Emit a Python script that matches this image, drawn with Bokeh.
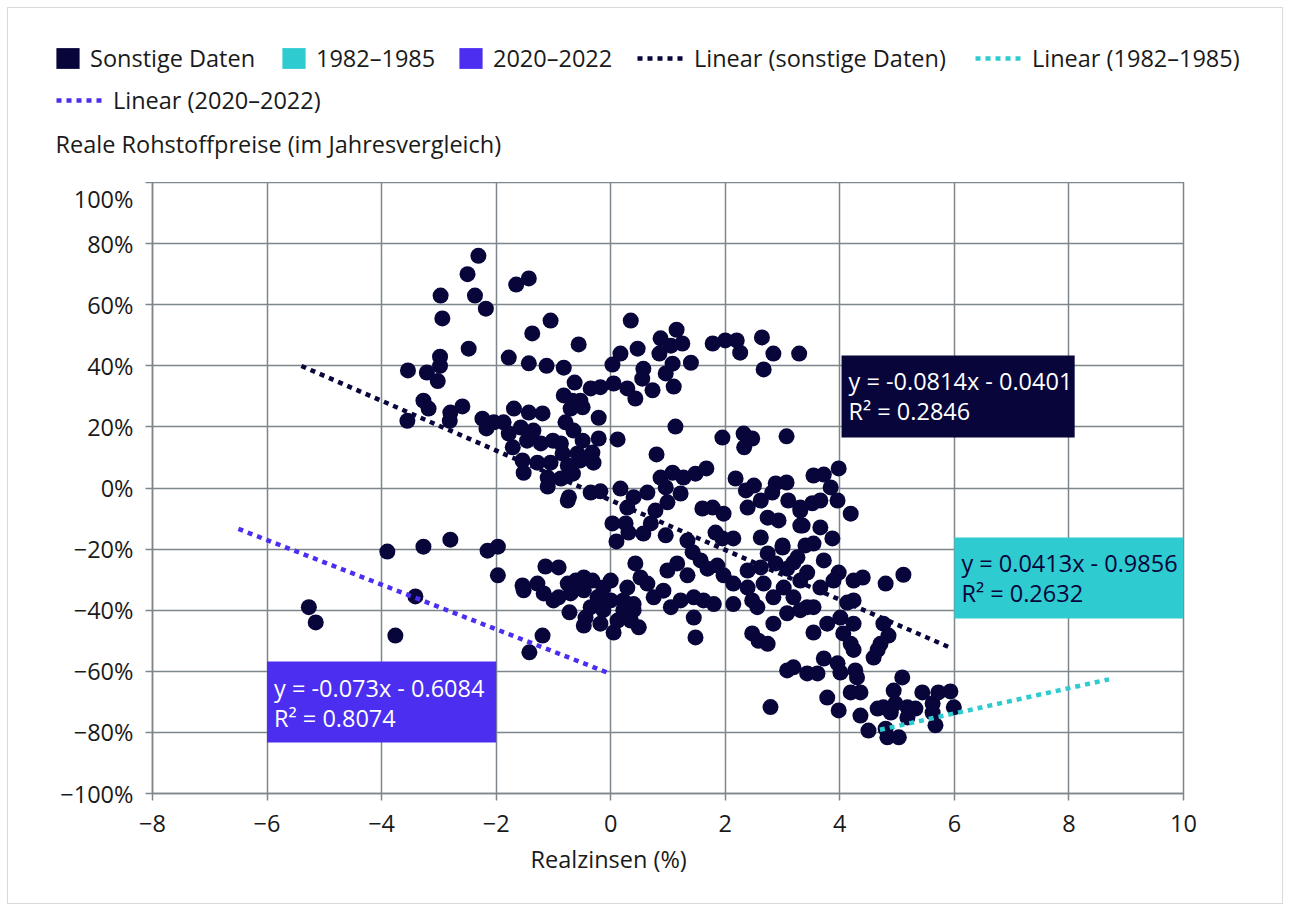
from bokeh.plotting import figure
from bokeh.layouts import column
from bokeh.models import (FixedTicker, Legend, LegendItem, Label, BoxAnnotation, Range1d, Title)
from bokeh.embed import file_html
from bokeh.resources import INLINE
from bokeh.core.properties import value

NAVY = "#07053A"
CYAN = "#2ECBD0"
PURPLE = "#4B2EF0"
GRID = "#7E868C"
TEXT = "#1A1A1A"
FONT = "Open Sans"
FS = "23.5px"

# ---------------- data ----------------
x_ticks = [-8, -6, -4, -2, 0, 2, 4, 6, 8, 10]
x_tick_labels = ["−8", "−6", "−4", "−2", "0", "2", "4", "6", "8", "10"]
y_ticks = [-100, -80, -60, -40, -20, 0, 20, 40, 60, 80, 100]
y_tick_labels = ["−100%", "−80%", "−60%", "−40%", "−20%", "0%", "20%", "40%", "60%", "80%", "100%"]

x_title = "Realzinsen (%)"
y_title = "Reale Rohstoffpreise (im Jahresvergleich)"

series_names = ["Sonstige Daten", "1982–1985", "2020–2022"]
series_colors = [NAVY, CYAN, PURPLE]

# Sonstige Daten: real rate (%) vs. real commodity price change (% y/y)
real_rate = [
    -2.31, -2.5, -2.37, -2.18, -1.65, -1.43, -2.97, -2.94, -1.05, -1.37, -0.56, 0.35, -2.48, -2.98, -2.98,
    -1.78, -1.43, -1.12, -0.82, 0.17, 0.03, 0.47,
    -3.54, -3.21, -3.02, -3.27, -3.18, -3.55, -2.8, -2.81, -2.59,
    -0.63, -0.82, -0.67, -0.53, -0.35, -0.18, 0.05, 0.29, 0.43, -0.21, -0.49, -0.7, -0.79, -0.65, -0.49,
    -0.21, 0.12, -0.32, -0.3, -0.58, -0.87,
    -1.69, -1.43, -1.19, -2.24, -2.04, -1.87, -2.17, -1.78, -1.57, -1.35, -1.46, -1.71, -1.22, -1.01, -0.84,
    -1.54, -1.28, -1.05, -0.75, -1.1, -1.52, -0.87, -0.66, -0.54, -1.1, -0.73, -0.35, -0.18, 0.17, 0.4,
    1.15, 0.87, 1.25, 1.05, 0.85, 1.78, 2.0, 2.2, 2.26, 2.64, 2.84, 3.29, 1.4, 1.08, 0.57, 0.96, 0.55, 2.67,
    0.73, 1.1, 1.13, 1.95, 2.32, 2.47, 2.33, 3.07, 0.8,
    0.87, 1.08, 1.27, 1.48, 1.67, 0.96, 1.22, 0.64, 0.78, 0.99, 2.18, 2.5, 2.36, 2.88, 3.07, 2.62, 2.39,
    2.82, 3.1, 3.31, 3.54, 3.72, 3.98, 3.84, 3.66, 3.96, 3.52, 1.6, 1.78, 1.97, 2.74, 4.19,
    0.29, 2.93, 3.35, 3.66, 3.87, 0.31, 0.57, 0.7, 0.96, 1.34, 1.43, 1.83, 1.95, 2.14, 2.62, 3.0, 3.4,
    2.74, 2.39, 2.62, 2.88, 3.08, 3.19, 3.43, 3.72, 3.98, 4.24, 0.43, 0.52, 0.29, 0.64, 0.99, 1.16, 1.34,
    1.57, 1.69, 1.86, 1.97, 2.14, 2.39, 2.67, 2.84, 3.02, 3.19, 3.31, 3.43, 3.66, 3.89, 0.22, 0.4, 0.75,
    0.92, 1.05, 1.22, 1.45, 1.62, 1.8, 1.45, 0.49, 1.48, 2.14, 2.47, 2.56, 2.84, 3.08, 3.31, 3.54, 3.78,
    3.54, 2.47, 2.58, 2.74, 4.01, 4.24, 4.06, 4.19,
    -3.9, -3.27, -2.8, -2.15, -1.97, -1.97, -3.41, -3.76, -1.19, -1.42, -1.14, -0.91, -1.54, -1.52, -1.28,
    -1.17, -0.91, -0.75, -0.61, -0.47, -0.32, -0.13, 0.0, -0.7, -0.47, -0.23, 0.0, -0.72, -0.44, -0.47,
    -0.18, 0.05, 0.12, 0.35, -0.35, -0.13, 0.22, 0.4, -1.0, 0.03, 0.26, -0.75, 0.1, -5.27, -5.15,
    3.31, 3.31, 3.0, 3.54, 3.26, 4.4, 4.8, 5.11, 4.13, 4.24, 4.24, 4.76, 4.85, 4.71, 4.66, 4.59,
    3.08, 3.19, 3.43, 3.61, 3.72, 3.96, 4.01, 4.27, 4.3,
    3.78, 3.98, 4.19, 4.36, 4.36, 4.5, 4.66, 4.76, 4.89, 4.8, 4.83, 5.03, 4.97, 4.94, 5.09, 5.18, 5.32,
    5.44, 5.62, 5.62, 5.72, 5.93, 5.99, 5.67, 5.18, 2.79,
]
price_change = [
    76, 70, 63, 58.7, 66.6, 68.6, 63, 55.5, 54.8, 50.6, 47, 54.8, 45.6, 43, 40,
    42.7, 40.8, 40, 39.4, 44, 40.4, 45.6,
    38.5, 37.8, 35, 28.6, 26, 22, 24.7, 22, 26.7,
    34.5, 30.3, 28.6, 28.6, 32.6, 33, 34.2, 32.6, 29.3, 23, 26.4, 26, 21.5, 18.8, 15.5,
    16.2, 15.9, 11.6, 8.3, 11.3, 14.6,
    26, 24.7, 24.4, 22.7, 21.5, 21.5, 19.5, 17.8, 19.8, 18.8, 15.5, 13.3, 14.6, 15.5, 11.3,
    9, 8.3, 8.3, 7.4, 3.4, 5, 3.1, 4.7, 9, 0.5, -3, -1.5, -1.1, -0.2, -3,
    51.8, 49, 47.3, 46.6, 44, 47.3, 48.3, 48.3, 44.3, 49.3, 44, 44, 41, 40.7, 39, 37.5, 35.8, 38.8,
    32, 33.2, 20.1, 16.5, 17.8, 16.2, 13.3, 16.9, 11,
    3.4, 5, 3.4, 4.7, 6.4, 0.2, -1.8, -1.5, -7.4, -4.7, 3.1, 0.8, -0.8, 1.5, 1.8, -4.1, -6.4,
    -1.5, -4.1, -6.4, 4.1, 4.4, 6.4, 0.2, -4.1, -4.1, -5, -6.7, -6.4, -8.4, -9.7, -8.4,
    -6.4, -10.6, -12.3, -12.9, -16.5, -14.6, -14.9, -11.6, -15.5, -17.2, -21, -14.6, -16.5, -16.5, -16.2, -18.8, -18.8,
    -21.4, -27, -26, -24.7, -26.4, -24.4, -27.7, -23.7, -27.7, -30.3, -24.7, -29.3, -32.6, -31.3, -27, -24.7, -28.6,
    -23.7, -26.4, -25.4, -28.6, -31.3, -32.6, -31.3, -35.8, -32.6, -35.8, -30.3, -39, -32.6, -30.3, -36.8, -40, -35.8,
    -33.6, -39, -36.8, -35.8, -36.8, -38, -42.4, -45.6, -48.9, -38, -36.8, -39, -44.4, -41, -40, -39, -44.4,
    -47.3, -47.6, -50, -51, -42.4, -36.8, -47.6, -51,
    -20.8, -19.2, -16.9, -20.5, -19.2, -28.6, -35.5, -48.3, -48.3, -53.8, -25.7, -26, -31.9, -33.5, -31.3,
    -34.5, -35.8, -31.3, -30.3, -29.3, -30.3, -32.6, -30.3, -34.5, -33.5, -35.8, -36.8, -40.7, -42.4, -45,
    -44.4, -47.3, -43.4, -43.4, -39, -40, -40, -38, -36.8, -11.6, -11.6, -4.1, -17.5, -39, -44,
    -7.4, -12.3, -19.5, -18.2, -22.7, -29.3, -31.3, -28.4, -37.5, -44.4, -53, -44.4, -48.3, -51, -53, -55.5,
    -59.7, -58.7, -60.7, -60.7, -55.8, -57.4, -60.4, -59.7, -62,
    -68.6, -72.8, -66.9, -66.9, -74.5, -79.4, -72.2, -71.8, -73.5, -78.8, -81.6, -81.6, -70.5, -66.3, -62, -71.8, -72.2,
    -66.9, -70.5, -73.5, -66.9, -66.6, -71.8, -77.7, -75.1, -71.7,
]

# linear trend lines (as printed in the chart)
trend_names = ["Linear (sonstige Daten)", "Linear (1982–1985)", "Linear (2020–2022)"]
trend_colors = [NAVY, CYAN, PURPLE]
trend_slope = [-0.0814, 0.0413, -0.073]
trend_intercept = [-0.0401, -0.9856, -0.6084]
trend_x_from = [-5.4, 4.7, -6.5]
trend_x_to = [5.95, 8.7, 0.0]
trend_eq = ["y = -0.0814x - 0.0401", "y = 0.0413x - 0.9856", "y = -0.073x - 0.6084"]
trend_r2_text = ["R² = 0.2846", "R² = 0.2632", "R² = 0.8074"]
# equation boxes (left, right, top, bottom) in data units
eq_box = [(4.03, 8.1, 43.4, 16.5), (6.0, 10.0, -16.2, -42.7), (-6.0, -2.0, -56.8, -83.3)]
eq_fill = [NAVY, CYAN, PURPLE]
eq_text_color = ["#FFFFFF", NAVY, "#FFFFFF"]

LW = 4.5
DASH = "5 5"

# ---------------- header (legend + y title) ----------------
header = figure(width=1274, height=174, x_range=Range1d(0, 1), y_range=Range1d(0, 1),
                x_axis_type=None, y_axis_type=None, output_backend="svg", toolbar_location=None,
                min_border_left=0, min_border_right=0, min_border_top=0, min_border_bottom=0)
header.outline_line_color = None
header.background_fill_color = "white"
header.border_fill_color = "white"
if "frame_align" in header.properties():
    header.frame_align = False

nan = float("nan")
series_r = [header.quad(left=[nan], right=[nan], top=[nan], bottom=[nan], fill_color=c, line_color=None)
            for c in series_colors]
trend_leg_r = [header.line([nan], [nan], line_color=c, line_width=LW, line_dash=DASH)
               for c in trend_colors]

def add_legend(renderer, label, x, y, gw, gh, standoff):
    lg = Legend(items=[LegendItem(label=value(label), renderers=[renderer])],
                location=(x, y), orientation="horizontal", padding=0, margin=0, spacing=0,
                border_line_color=None, background_fill_alpha=0,
                glyph_width=gw, glyph_height=gh, label_standoff=standoff, label_height=26,
                label_text_font=FONT, label_text_font_size=FS, label_text_color=TEXT)
    header.add_layout(lg)

row1_y = 108
row2_y = 66
add_legend(series_r[0], series_names[0], 45, row1_y, 29, 26, 8)
add_legend(series_r[1], series_names[1], 271, row1_y, 29, 26, 8)
add_legend(series_r[2], series_names[2], 448, row1_y, 29, 26, 8)
add_legend(trend_leg_r[0], trend_names[0], 629, row1_y, 47, 26, 10)
add_legend(trend_leg_r[1], trend_names[1], 967, row1_y, 47, 26, 10)
add_legend(trend_leg_r[2], trend_names[2], 48, row2_y, 47, 26, 10)

header.add_layout(Label(x=47, y=39, x_units="screen", y_units="screen", text=y_title,
                        text_font=FONT, text_font_size=FS, text_color=TEXT,
                        text_baseline="middle", text_align="left"))

# ---------------- main chart ----------------
p = figure(width=1274, height=721, x_range=Range1d(-8, 10), y_range=Range1d(-100, 100),
           output_backend="svg", toolbar_location=None,
           min_border_left=144, min_border_right=99, min_border_top=0, min_border_bottom=110)
if "frame_align" in p.properties():
    p.frame_align = False
p.background_fill_color = "white"
p.border_fill_color = "white"
p.outline_line_color = GRID
p.outline_line_width = 1.5

p.xaxis.ticker = FixedTicker(ticks=x_ticks)
p.yaxis.ticker = FixedTicker(ticks=y_ticks)
p.xaxis.major_label_overrides = {t: l for t, l in zip(x_ticks, x_tick_labels)}
p.yaxis.major_label_overrides = {t: l for t, l in zip(y_ticks, y_tick_labels)}
for ax in (p.xaxis, p.yaxis):
    ax.axis_line_color = GRID
    ax.axis_line_width = 1.5
    ax.major_tick_line_color = GRID
    ax.major_tick_line_width = 1.5
    ax.major_tick_out = 7
    ax.major_tick_in = 0
    ax.minor_tick_line_color = None
    ax.major_label_text_font = FONT
    ax.major_label_text_font_size = FS
    ax.major_label_text_color = TEXT
p.yaxis.major_label_standoff = 12
p.xaxis.major_label_standoff = 14
p.grid.grid_line_color = GRID
p.grid.grid_line_width = 1.5

trend_xy = []
for i in range(3):
    xs = [trend_x_from[i], trend_x_to[i]]
    ys = [100 * (trend_slope[i] * x + trend_intercept[i]) for x in xs]
    trend_xy.append((xs, ys))

# dark trend line below the points, the others above
p.line(trend_xy[0][0], trend_xy[0][1], line_color=trend_colors[0], line_width=LW, line_dash=DASH)
p.scatter(real_rate, price_change, marker="circle", size=16, fill_color=NAVY, line_color=None)
p.line(trend_xy[1][0], trend_xy[1][1], line_color=trend_colors[1], line_width=LW, line_dash=DASH)
p.line(trend_xy[2][0], trend_xy[2][1], line_color=trend_colors[2], line_width=LW, line_dash=DASH)

# equation boxes
for i in range(3):
    l, r, t, b = eq_box[i]
    p.add_layout(BoxAnnotation(left=l, right=r, top=t, bottom=b, fill_color=eq_fill[i],
                               fill_alpha=1, line_color=None))
    for txt, off in ((trend_eq[i], -26), (trend_r2_text[i], -56)):
        p.add_layout(Label(x=l, y=t, x_offset=7, y_offset=off, text=txt, text_font=FONT,
                           text_font_size=FS, text_color=eq_text_color[i],
                           text_baseline="middle", text_align="left"))

# x axis title (left aligned relative to the frame)
p.add_layout(Title(text=x_title, align="left", offset=378, standoff=12, text_font=FONT,
                   text_font_size=FS, text_font_style="normal", text_color=TEXT), "below")

layout = column(header, p, spacing=0,
                styles={"margin": "8px", "outline": "1px solid #DADADA"})

open("out.html", "w").write(file_html(layout, INLINE))
